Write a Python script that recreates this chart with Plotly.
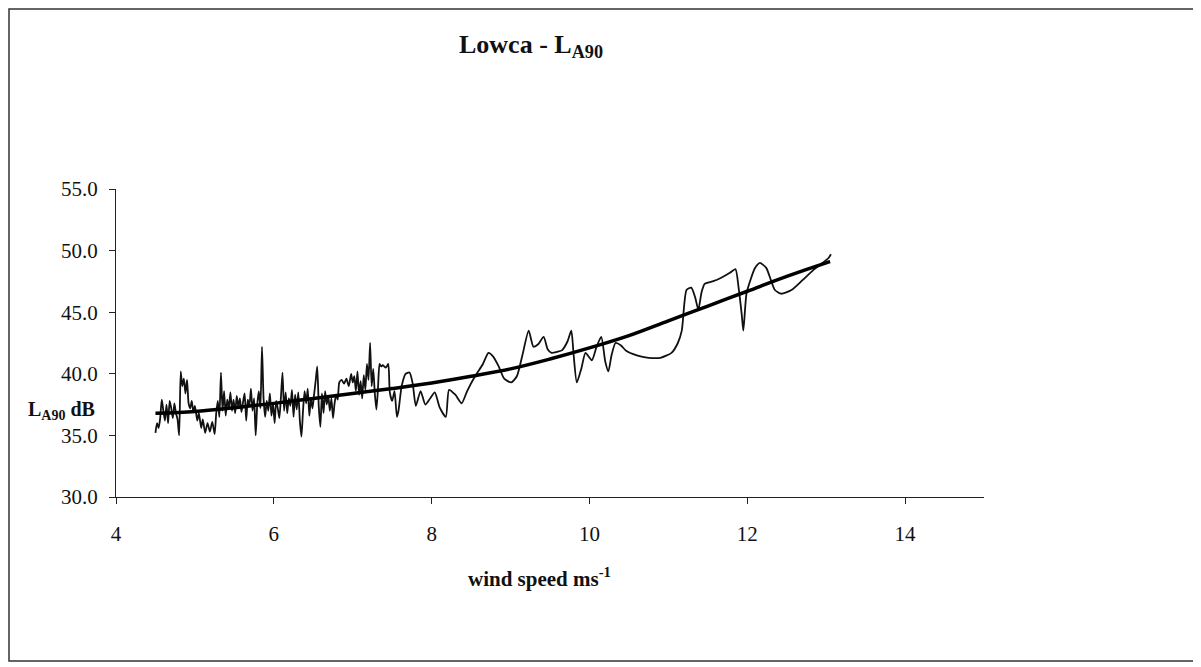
import plotly.graph_objects as go

# ---- data ----
wind_noisy = [
    4.50, 4.52, 4.54, 4.56, 4.58, 4.60, 4.62, 4.64, 4.66, 4.68, 4.70, 4.72, 4.74, 4.76, 4.78, 4.80,
    4.82, 4.84, 4.86, 4.88, 4.90, 4.92, 4.94, 4.96, 4.98, 5.00, 5.03, 5.05, 5.08, 5.10, 5.13, 5.16,
    5.19, 5.22, 5.25, 5.27, 5.29, 5.31, 5.33, 5.35, 5.37, 5.39, 5.41, 5.43, 5.45, 5.47, 5.49, 5.51,
    5.53, 5.55, 5.57, 5.59, 5.61, 5.63, 5.65, 5.67, 5.69, 5.71, 5.73, 5.75, 5.77, 5.79, 5.81, 5.83,
    5.85, 5.87, 5.89, 5.91, 5.93, 5.95, 5.97, 5.99, 6.01, 6.03, 6.05, 6.07, 6.09, 6.11, 6.13, 6.15,
    6.17, 6.19, 6.21, 6.23, 6.25, 6.27, 6.29, 6.31, 6.33, 6.35, 6.37, 6.39, 6.41, 6.43, 6.45, 6.47,
    6.49, 6.51, 6.53, 6.55, 6.57, 6.59, 6.61, 6.63, 6.65, 6.67, 6.69, 6.71, 6.73, 6.75, 6.77, 6.79,
    6.81, 6.83, 6.86, 6.89, 6.92, 6.95, 6.98, 7.00, 7.02, 7.04, 7.06, 7.08, 7.10, 7.12, 7.14, 7.16,
    7.18, 7.20, 7.22, 7.24, 7.26, 7.28, 7.30, 7.32, 7.34, 7.36, 7.38, 7.42, 7.45, 7.47, 7.50, 7.53,
    7.56, 7.58, 7.62, 7.67, 7.72, 7.76, 7.80, 7.86, 7.92, 7.98, 8.04, 8.10, 8.18, 8.22, 8.30, 8.38,
    8.45, 8.55, 8.65, 8.72, 8.78, 8.85, 8.92, 9.01, 9.08, 9.15, 9.23, 9.29, 9.35, 9.42, 9.47, 9.52,
    9.60, 9.65, 9.72, 9.77, 9.80, 9.84, 9.90, 9.95, 10.03, 10.09, 10.15, 10.20, 10.24, 10.28, 10.33, 10.40,
    10.46, 10.60, 10.75, 10.90, 11.04, 11.12, 11.17, 11.23, 11.29, 11.34, 11.38, 11.42, 11.46, 11.56, 11.67, 11.78,
    11.85, 11.89, 11.93, 11.95, 11.99, 12.05, 12.10, 12.16, 12.24, 12.30, 12.35, 12.43, 12.56, 12.70, 12.85, 13.03,
    13.06,
]
la90_noisy = [
    35.2, 36.0, 35.6, 36.4, 37.9, 37.0, 36.2, 37.5, 36.0, 37.8, 37.2, 36.4, 37.6, 36.8, 36.3, 35.0,
    40.2, 39.0, 39.6, 38.4, 39.5, 37.6, 37.2, 37.8, 36.9, 37.4, 36.2, 36.8, 35.6, 36.3, 35.2, 36.0,
    35.3, 36.1, 35.1, 36.8, 37.8, 36.5, 40.1, 37.0, 38.6, 36.6, 37.9, 37.2, 38.5, 37.0, 37.9, 36.8,
    38.2, 37.3, 38.0, 36.9, 37.7, 38.4, 36.2, 37.9, 37.4, 38.8, 37.0, 38.0, 35.0, 37.5, 38.6, 37.2,
    42.2, 38.0, 36.5, 37.8, 37.0, 38.4, 36.6, 37.6, 36.0, 37.8, 37.2, 36.4, 38.1, 40.1, 37.0, 38.5,
    36.8, 38.0, 37.4, 38.7, 36.5, 38.3, 37.1, 38.5, 36.2, 34.9, 37.0, 38.6, 37.6, 38.8, 36.6, 38.0,
    37.2, 38.3, 39.4, 40.6, 37.3, 35.7, 38.4, 36.8, 38.6, 37.5, 38.2, 37.0, 38.0, 36.4, 37.6, 38.3,
    37.9, 39.3, 39.5, 39.2, 39.6, 39.0, 40.0, 39.3, 39.8, 38.6, 40.2, 38.3, 39.4, 38.0, 39.9, 38.7,
    40.8, 39.5, 42.5, 39.0, 40.4, 38.4, 37.1, 38.8, 40.8, 40.6, 40.7, 40.5, 40.8, 38.5, 37.8, 38.6,
    36.5, 37.0, 39.0, 40.0, 40.1, 39.2, 37.4, 38.6, 37.5, 38.0, 38.5, 37.3, 36.5, 38.7, 38.3, 37.6,
    38.6, 39.8, 40.8, 41.7, 41.4, 40.6, 39.6, 39.3, 39.8, 41.5, 43.5, 42.2, 42.4, 43.0, 42.0, 41.7,
    41.8, 41.9, 42.6, 43.5, 41.5, 39.3, 40.5, 41.7, 41.1, 42.2, 43.0, 41.0, 40.2, 41.5, 42.5, 42.3,
    41.9, 41.5, 41.3, 41.3, 41.7, 42.5, 43.5, 46.8, 47.0, 46.2, 45.2, 46.6, 47.3, 47.5, 47.8, 48.2,
    48.5, 47.0, 44.8, 43.5, 46.5, 47.8, 48.6, 49.0, 48.6, 47.6, 46.8, 46.5, 46.8, 47.6, 48.5, 49.4,
    49.7,
]

wind_trend = [4.5, 5.0, 5.5, 6.0, 6.5, 7.0, 7.5, 8.0, 8.5, 9.0, 9.5, 10.0, 10.5, 11.0, 11.5, 12.0, 12.5, 13.0, 13.05]
la90_trend = [36.8, 36.95, 37.25, 37.6, 38.0, 38.4, 38.8, 39.25, 39.8, 40.4, 41.2, 42.1, 43.1, 44.3, 45.5, 46.7, 47.9, 49.0, 49.1]

x_ticks = [4, 6, 8, 10, 12, 14]
y_ticks = [30, 35, 40, 45, 50, 55]
y_tick_labels = ["30.0", "35.0", "40.0", "45.0", "50.0", "55.0"]

title_text = "<b>Lowca - L<sub>A90</sub></b>"
x_title = "<b>wind speed ms<sup>-1</sup></b>"
y_title = "<b>L<sub>A90</sub> dB</b>"

# ---- figure (page body adds an 8px offset, so figure coords = page coords - 8) ----
OFF = 8
W, H = 1201 - OFF, 667 - OFF
ML, MT = 116 - OFF, 189 - OFF
PLOT_R, PLOT_B = 984 - OFF, 497 - OFF
MR, MB = W - PLOT_R, H - PLOT_B
PW, PH = PLOT_R - ML, PLOT_B - MT


def px(xp):
    return (xp - OFF - ML) / PW


def py(yp):
    return (PLOT_B - (yp - OFF)) / PH


SERIF = "Liberation Serif"

fig = go.Figure()
fig.add_trace(go.Scatter(
    x=wind_noisy, y=la90_noisy, mode="lines",
    line=dict(color="#111111", width=1.8, shape="spline", smoothing=0.6),
    hoverinfo="skip", showlegend=False,
))
fig.add_trace(go.Scatter(
    x=wind_trend, y=la90_trend, mode="lines",
    line=dict(color="#000000", width=3.5, shape="spline", smoothing=1.0),
    hoverinfo="skip", showlegend=False,
))

fig.update_layout(
    width=W, height=H,
    margin=dict(l=ML, r=MR, t=MT, b=MB, autoexpand=False),
    paper_bgcolor="white", plot_bgcolor="white",
    font=dict(family=SERIF, color="#111111", size=20),
    showlegend=False,
    xaxis=dict(
        range=[4, 15], tickvals=x_ticks, ticktext=[str(v) for v in x_ticks],
        showgrid=False, zeroline=False, showline=True, linecolor="#222222", linewidth=1.2,
        ticks="outside", ticklen=6, tickcolor="#222222", tickwidth=1.2,
        tickfont=dict(family=SERIF, size=21, color="#111111"),
        ticklabelstandoff=12,
    ),
    yaxis=dict(
        range=[30, 55], tickvals=y_ticks, ticktext=y_tick_labels,
        showgrid=False, zeroline=False, showline=True, linecolor="#222222", linewidth=1.2,
        ticks="outside", ticklen=6, tickcolor="#222222", tickwidth=1.2,
        tickfont=dict(family=SERIF, size=21, color="#111111"),
        ticklabelstandoff=7,
    ),
    annotations=[
        dict(text=title_text, x=px(531), y=py(46), xref="paper", yref="paper",
             xanchor="center", yanchor="middle", showarrow=False,
             font=dict(family=SERIF, size=26, color="#111111")),
        dict(text=x_title, x=px(539), y=py(577), xref="paper", yref="paper",
             xanchor="center", yanchor="middle", showarrow=False,
             font=dict(family=SERIF, size=21, color="#111111")),
        dict(text=y_title, x=px(61), y=py(410), xref="paper", yref="paper",
             xanchor="center", yanchor="middle", showarrow=False,
             font=dict(family=SERIF, size=20, color="#111111")),
    ],
    shapes=[
        dict(type="rect", xref="paper", yref="paper",
             x0=px(9), x1=px(1195), y0=py(661), y1=py(9),
             line=dict(color="#333333", width=1.5), fillcolor="rgba(0,0,0,0)", layer="below"),
    ],
)

fig.write_html("out.html")
